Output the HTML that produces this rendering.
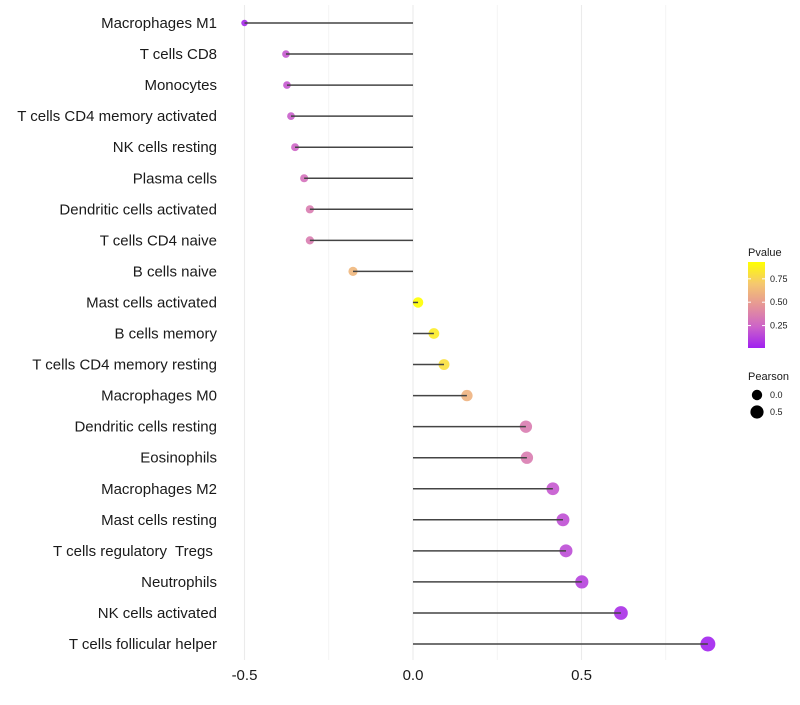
<!DOCTYPE html>
<html><head><meta charset="utf-8"><style>
body{margin:0;background:#fff}
svg text{font-family:"Liberation Sans",sans-serif;white-space:pre}
</style></head><body>
<svg id="chart" width="800" height="700" xmlns="http://www.w3.org/2000/svg"></svg>
<script>
const categories=["Macrophages M1","T cells CD8","Monocytes","T cells CD4 memory activated","NK cells resting","Plasma cells","Dendritic cells activated","T cells CD4 naive","B cells naive","Mast cells activated","B cells memory","T cells CD4 memory resting","Macrophages M0","Dendritic cells resting","Eosinophils","Macrophages M2","Mast cells resting","T cells regulatory  Tregs ","Neutrophils","NK cells activated","T cells follicular helper"];
const pearson=[-0.5,-0.377,-0.374,-0.362,-0.35,-0.323,-0.306,-0.306,-0.178,0.015,0.062,0.092,0.16,0.335,0.338,0.415,0.445,0.454,0.501,0.617,0.875];
const pvalues=[0.04,0.2,0.2,0.22,0.25,0.3,0.35,0.35,0.62,0.95,0.85,0.8,0.6,0.35,0.35,0.2,0.17,0.16,0.12,0.06,0.02];
const xTicks=[-0.5,0,0.5];
const xMinor=[-0.25,0.25,0.75];
const pTicks=[0.25,0.5,0.75];
const sizeTicks=[0.0,0.5];

const NS="http://www.w3.org/2000/svg";
const svg=document.getElementById('chart');
function el(t,a,p){const e=document.createElementNS(NS,t);for(const k in a)e.setAttribute(k,a[k]);(p||svg).appendChild(e);return e;}
const xs=v=>413+v*337;
const ys=i=>23+i*31.05;
const rs=v=>Math.sqrt(Math.max(5,27+33*v));
function lerp(a,b,t){return a.map((x,i)=>Math.round(x+(b[i]-x)*t));}
function col(p){const t=Math.max(0,Math.min(1,(p-0.01)/0.92));
 const s=[[160,32,240],[205,100,200],[230,150,150],[245,200,110],[255,255,0]];
 const f=t*4,i=Math.min(3,Math.floor(f));const c=lerp(s[i],s[i+1],f-i);return `rgb(${c})`;}

xMinor.forEach(v=>{const l=el('line',{x1:xs(v),x2:xs(v),y1:5,y2:660,stroke:'#f2f2f2','stroke-width':0.8});
});
xTicks.forEach(v=>{const l=el('line',{x1:xs(v),x2:xs(v),y1:5,y2:660,stroke:'#ebebeb','stroke-width':1.1});

const t=el('text',{x:xs(v),y:680,'text-anchor':'middle','font-size':15,fill:'#1a1a1a'});t.textContent=v===0?'0.0':String(v);
});

categories.forEach((c,i)=>{const y=ys(i);
const t=el('text',{x:217,y:y+5,'text-anchor':'end','font-size':15,fill:'#1a1a1a'});t.textContent=c;

const pt=el('circle',{cx:xs(pearson[i]),cy:y,r:rs(pearson[i]),fill:col(pvalues[i]),'fill-opacity':0.9});

const s=el('line',{x1:xs(0),x2:xs(pearson[i]),y1:y,y2:y,stroke:'#444','stroke-width':1.5});
});

const g=el('g',{});
const tt=el('text',{x:748,y:256,'font-size':11,fill:'#1a1a1a'},g);tt.textContent='Pvalue';
const defs=el('defs',{},g);const lg=el('linearGradient',{id:'pg',x1:0,y1:1,x2:0,y2:0},defs);
[0,0.25,0.5,0.75,1].forEach(o=>el('stop',{offset:o,'stop-color':col(0.01+o*0.92)},lg));
const bar=el('rect',{x:748,y:262,width:17,height:86,fill:'url(#pg)'},g);
const py=p=>348-(p-0.01)/0.92*86;
pTicks.forEach(p=>{el('line',{x1:748,x2:751,y1:py(p),y2:py(p),stroke:'#fff'},g);el('line',{x1:762,x2:765,y1:py(p),y2:py(p),stroke:'#fff'},g);
const t=el('text',{x:770,y:py(p)+3,'font-size':9,fill:'#1a1a1a'},g);t.textContent=p.toFixed(2);});
const pt2=el('text',{x:748,y:380,'font-size':11,fill:'#1a1a1a'},g);pt2.textContent='Pearson';
sizeTicks.forEach((v,i)=>{const y=395+i*17;el('circle',{cx:757,cy:y,r:rs(v),fill:'#000'},g);
const t=el('text',{x:770,y:y+3,'font-size':9,fill:'#1a1a1a'},g);t.textContent=v.toFixed(1);});
</script>
</body></html>
